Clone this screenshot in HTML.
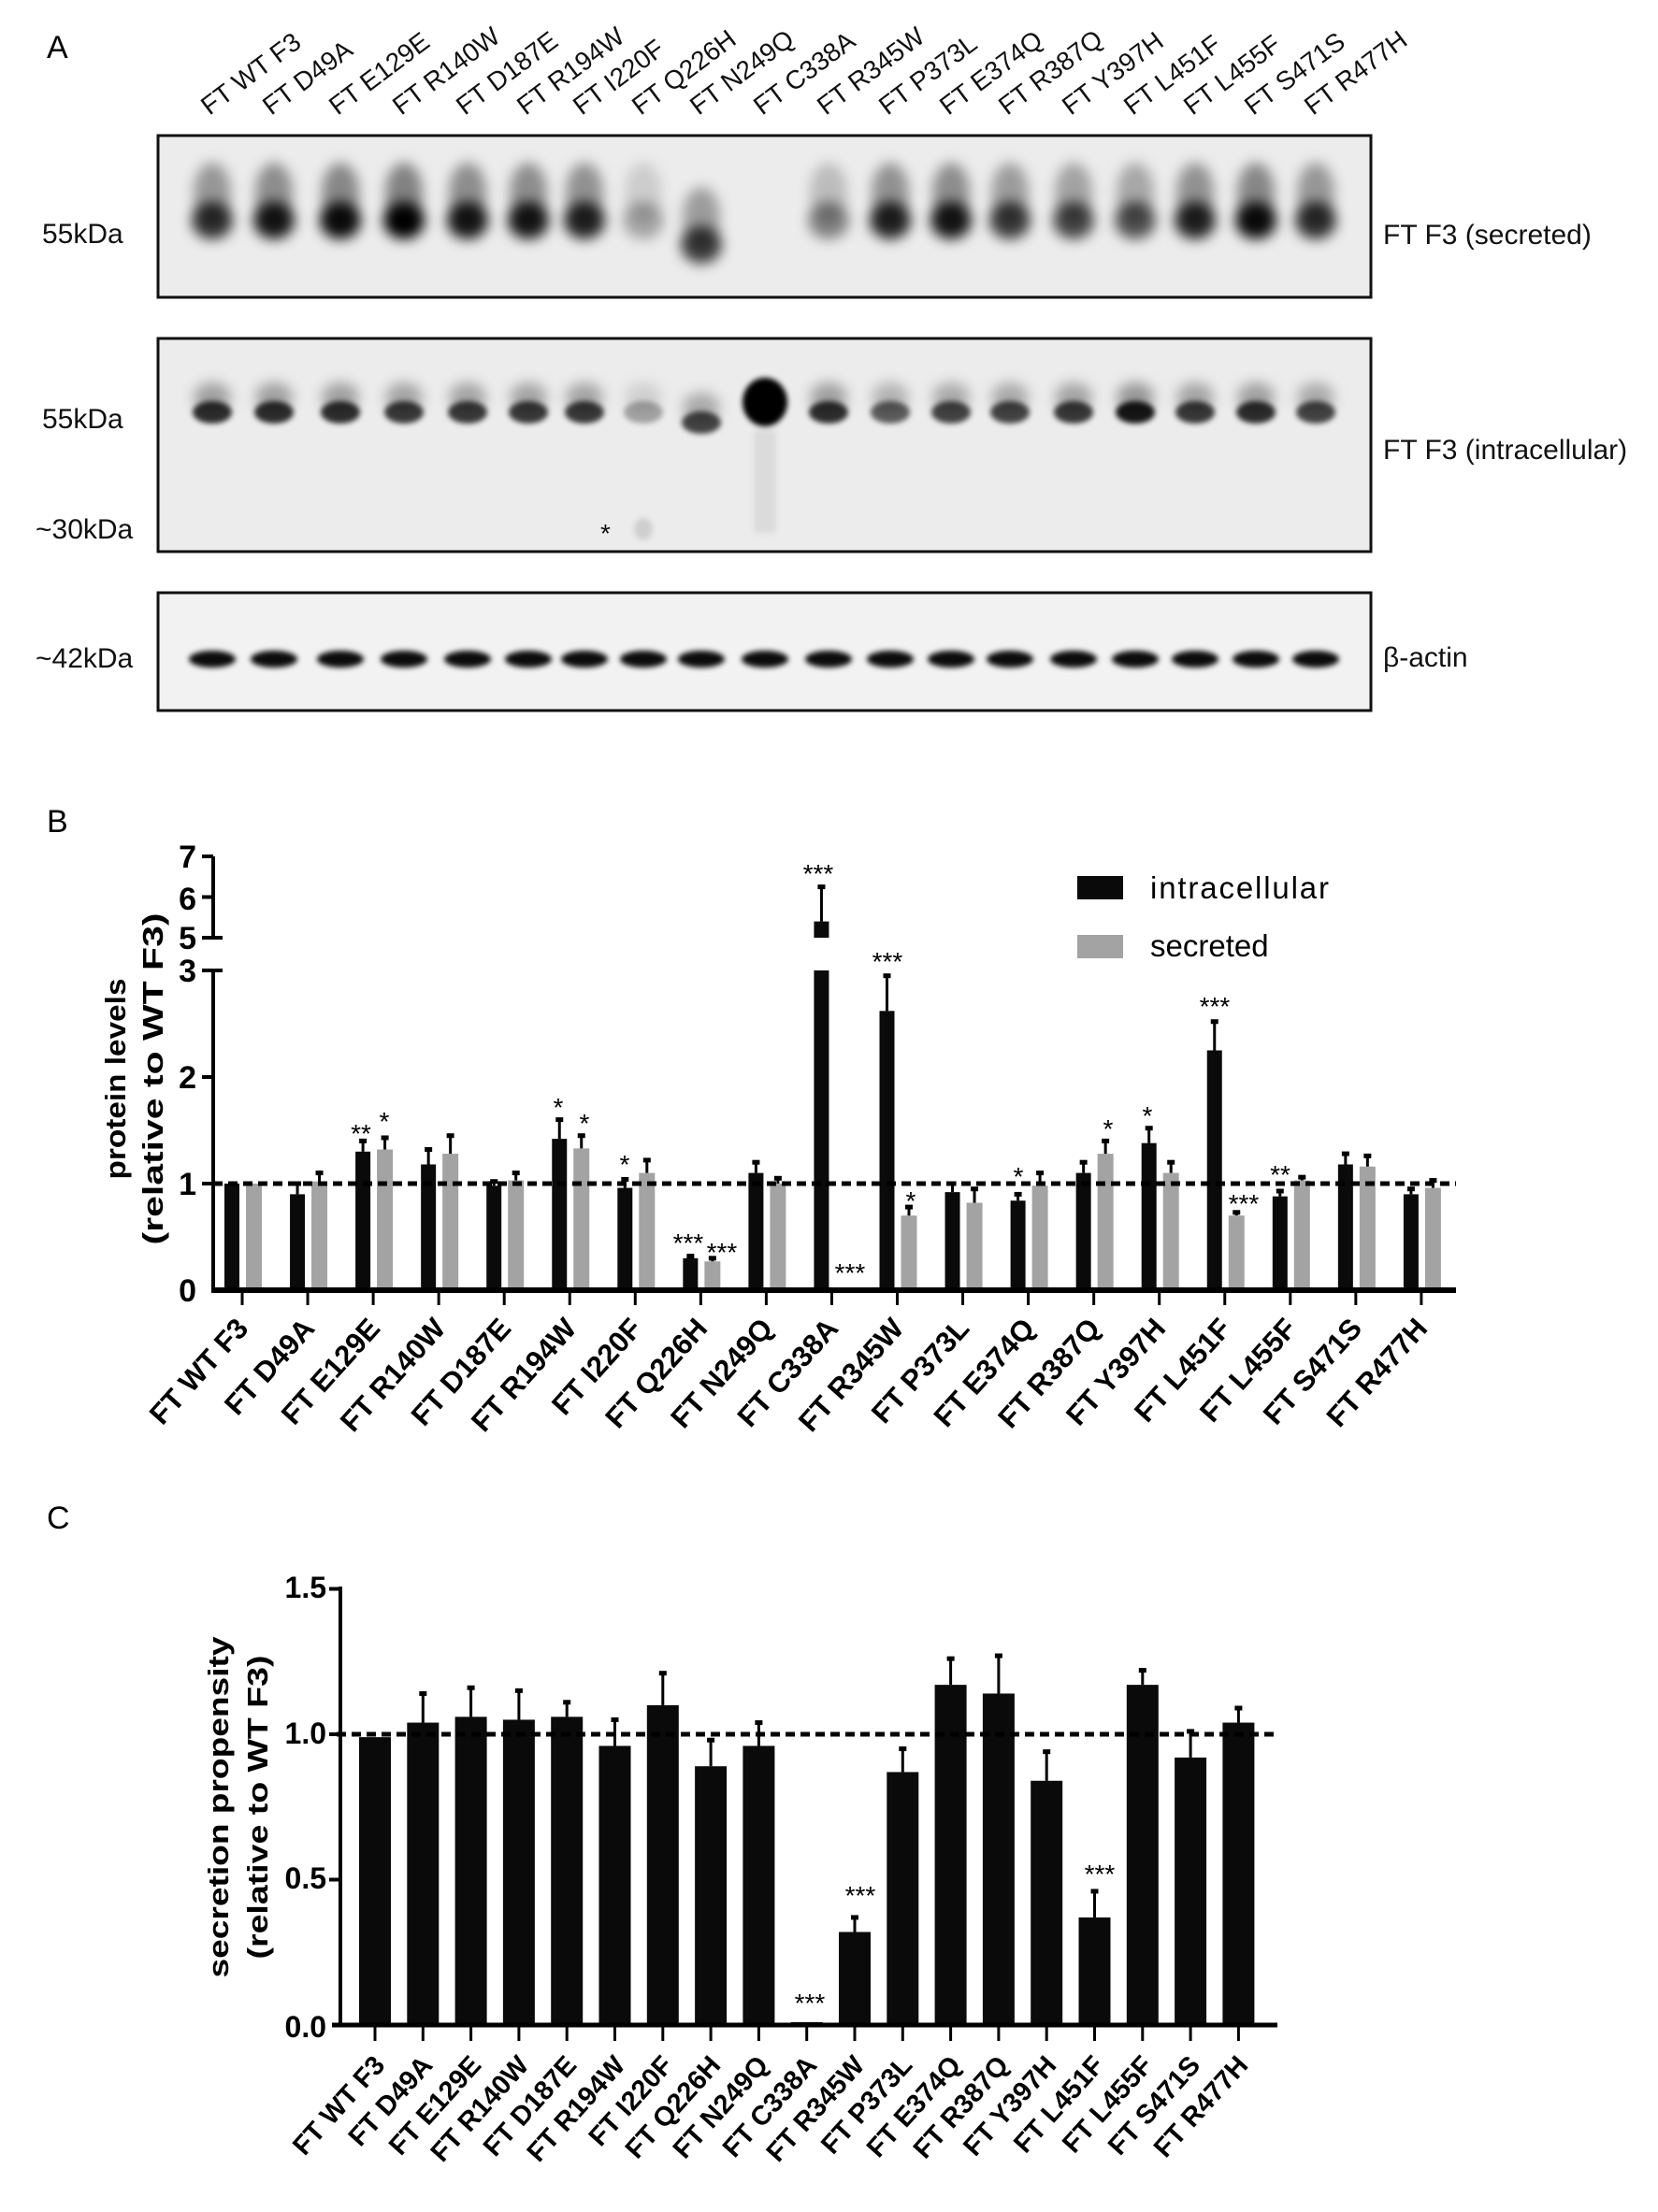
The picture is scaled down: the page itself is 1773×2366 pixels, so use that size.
<!DOCTYPE html>
<html><head><meta charset="utf-8"><style>
html,body{margin:0;padding:0;background:#fff}
svg{display:block}
text{font-family:"Liberation Sans",sans-serif}
</style></head><body>
<svg id="s" width="1773" height="2366" viewBox="0 0 1773 2366" xmlns="http://www.w3.org/2000/svg">
<defs>
<filter id="b1" x="-50%" y="-50%" width="200%" height="200%"><feGaussianBlur stdDeviation="7"/></filter>
<filter id="b2" x="-50%" y="-50%" width="200%" height="200%"><feGaussianBlur stdDeviation="3"/></filter>
</defs>
<rect width="1773" height="2366" fill="#fff"/>
<!-- Panel A -->
<text x="50" y="62" font-size="34">A</text>
<g font-size="28" fill="#111">
<text transform="translate(224,124) rotate(-37)">FT WT F3</text>
<text transform="translate(290,124) rotate(-37)">FT D49A</text>
<text transform="translate(361,124) rotate(-37)">FT E129E</text>
<text transform="translate(429,124) rotate(-37)">FT R140W</text>
<text transform="translate(497,124) rotate(-37)">FT D187E</text>
<text transform="translate(562,124) rotate(-37)">FT R194W</text>
<text transform="translate(622,124) rotate(-37)">FT I220F</text>
<text transform="translate(685,124) rotate(-37)">FT Q226H</text>
<text transform="translate(747,124) rotate(-37)">FT N249Q</text>
<text transform="translate(815,124) rotate(-37)">FT C338A</text>
<text transform="translate(883,124) rotate(-37)">FT R345W</text>
<text transform="translate(949,124) rotate(-37)">FT P373L</text>
<text transform="translate(1014,124) rotate(-37)">FT E374Q</text>
<text transform="translate(1077,124) rotate(-37)">FT R387Q</text>
<text transform="translate(1145,124) rotate(-37)">FT Y397H</text>
<text transform="translate(1211,124) rotate(-37)">FT L451F</text>
<text transform="translate(1275,124) rotate(-37)">FT L455F</text>
<text transform="translate(1340,124) rotate(-37)">FT S471S</text>
<text transform="translate(1404,124) rotate(-37)">FT R477H</text>
</g>
<rect x="169" y="145" width="1297" height="173" fill="#ececec" stroke="#111" stroke-width="3"/>
<rect x="169" y="362" width="1297" height="228" fill="#ececec" stroke="#111" stroke-width="3"/>
<rect x="169" y="634" width="1297" height="126" fill="#f2f2f2" stroke="#111" stroke-width="3"/>
<g id="bands"></g>
<g font-size="30" fill="#111">
<text x="45" y="260">55kDa</text>
<text x="45" y="458">55kDa</text>
<text x="38" y="576">~30kDa</text>
<text x="38" y="714">~42kDa</text>
<text x="1479" y="261">FT F3 (secreted)</text>
<text x="1479" y="491">FT F3 (intracellular)</text>
<text x="1479" y="713">β-actin</text>
<text x="642" y="580" font-size="28">*</text>
</g>
<!-- Panel B -->
<text x="50" y="890" font-size="34">B</text>
<g id="gB"></g>
<g font-size="34" font-weight="bold" text-anchor="end">
<text x="210" y="1392">0</text><text x="210" y="1278">1</text><text x="210" y="1164">2</text><text x="210" y="1050">3</text>
<text x="210" y="1015">5</text><text x="210" y="973">6</text><text x="210" y="928">7</text>
</g>
<g font-size="31" font-weight="bold" text-anchor="middle">
<text transform="translate(134,1154) rotate(-90)" textLength="215" lengthAdjust="spacingAndGlyphs">protein levels</text>
<text transform="translate(174,1154) rotate(-90)" textLength="355" lengthAdjust="spacingAndGlyphs">(relative to WT F3)</text>
</g>
<rect x="1152" y="937" width="49" height="25" fill="#0a0a0a"/>
<rect x="1152" y="1000" width="49" height="25" fill="#a3a3a3"/>
<text x="1230" y="961" font-size="33" textLength="191">intracellular</text>
<text x="1230" y="1023" font-size="33">secreted</text>
<g font-size="28" text-anchor="middle">
<text x="386" y="1222">**</text><text x="411" y="1209">*</text>
<text x="597" y="1194">*</text><text x="625" y="1211">*</text>
<text x="668" y="1255">*</text>
<text x="736" y="1339">***</text><text x="772" y="1349">***</text>
<text x="875" y="944">***</text><text x="909" y="1371">***</text>
<text x="949" y="1038">***</text><text x="974" y="1294">*</text>
<text x="1089" y="1268">*</text>
<text x="1185" y="1217">*</text>
<text x="1227" y="1203">*</text>
<text x="1299" y="1086">***</text><text x="1330" y="1297">***</text>
<text x="1369" y="1266">**</text>
</g>
<g font-size="31" font-weight="bold" text-anchor="end">
<text transform="translate(267,1422) rotate(-48)">FT WT F3</text>
<text transform="translate(338,1422) rotate(-48)">FT D49A</text>
<text transform="translate(408,1422) rotate(-48)">FT E129E</text>
<text transform="translate(478,1422) rotate(-48)">FT R140W</text>
<text transform="translate(548,1422) rotate(-48)">FT D187E</text>
<text transform="translate(618,1422) rotate(-48)">FT R194W</text>
<text transform="translate(688,1422) rotate(-48)">FT I220F</text>
<text transform="translate(758,1422) rotate(-48)">FT Q226H</text>
<text transform="translate(828,1422) rotate(-48)">FT N249Q</text>
<text transform="translate(898,1422) rotate(-48)">FT C338A</text>
<text transform="translate(968,1422) rotate(-48)">FT R345W</text>
<text transform="translate(1038,1422) rotate(-48)">FT P373L</text>
<text transform="translate(1108,1422) rotate(-48)">FT E374Q</text>
<text transform="translate(1178,1422) rotate(-48)">FT R387Q</text>
<text transform="translate(1248,1422) rotate(-48)">FT Y397H</text>
<text transform="translate(1318,1422) rotate(-48)">FT L451F</text>
<text transform="translate(1388,1422) rotate(-48)">FT L455F</text>
<text transform="translate(1458,1422) rotate(-48)">FT S471S</text>
<text transform="translate(1528,1422) rotate(-48)">FT R477H</text>
</g>
<!-- Panel C -->
<text x="50" y="1635" font-size="34">C</text>
<g id="gC"></g>
<g font-size="32" font-weight="bold" text-anchor="end">
<text x="349" y="2179">0.0</text><text x="349" y="2020">0.5</text><text x="349" y="1865">1.0</text><text x="349" y="1709">1.5</text>
</g>
<g font-size="31" font-weight="bold" text-anchor="middle">
<text transform="translate(244,1933) rotate(-90)" textLength="365" lengthAdjust="spacingAndGlyphs">secretion propensity</text>
<text transform="translate(286,1933) rotate(-90)" textLength="325" lengthAdjust="spacingAndGlyphs">(relative to WT F3)</text>
</g>
<g font-size="28" text-anchor="middle">
<text x="866" y="2152">***</text>
<text x="920" y="2037">***</text>
<text x="1176" y="2014">***</text>
</g>
<g font-size="29" font-weight="bold" text-anchor="end">
<text transform="translate(413,2210) rotate(-48)">FT WT F3</text>
<text transform="translate(464,2210) rotate(-48)">FT D49A</text>
<text transform="translate(516,2210) rotate(-48)">FT E129E</text>
<text transform="translate(567,2210) rotate(-48)">FT R140W</text>
<text transform="translate(618,2210) rotate(-48)">FT D187E</text>
<text transform="translate(670,2210) rotate(-48)">FT R194W</text>
<text transform="translate(721,2210) rotate(-48)">FT I220F</text>
<text transform="translate(772,2210) rotate(-48)">FT Q226H</text>
<text transform="translate(823,2210) rotate(-48)">FT N249Q</text>
<text transform="translate(875,2210) rotate(-48)">FT C338A</text>
<text transform="translate(926,2210) rotate(-48)">FT R345W</text>
<text transform="translate(977,2210) rotate(-48)">FT P373L</text>
<text transform="translate(1029,2210) rotate(-48)">FT E374Q</text>
<text transform="translate(1080,2210) rotate(-48)">FT R387Q</text>
<text transform="translate(1131,2210) rotate(-48)">FT Y397H</text>
<text transform="translate(1182,2210) rotate(-48)">FT L451F</text>
<text transform="translate(1234,2210) rotate(-48)">FT L455F</text>
<text transform="translate(1285,2210) rotate(-48)">FT S471S</text>
<text transform="translate(1336,2210) rotate(-48)">FT R477H</text>
</g>
</svg>
<script>
var NS="http://www.w3.org/2000/svg";
function el(p,t,a){var e=document.createElementNS(NS,t);for(var k in a)e.setAttribute(k,a[k]);p.appendChild(e);return e;}
var lanes=[227,293,364,432,500,565,625,688,750,818,886,952,1017,1080,1148,1214,1278,1343,1407];
var sec=[.8,.9,.95,1,.9,.9,.85,.3,.75,0,.45,.85,.9,.75,.7,.65,.85,.95,.8];
var itc=[.8,.8,.8,.75,.75,.75,.75,.3,.7,1,.8,.6,.7,.7,.75,.9,.75,.8,.7];
var bg=document.getElementById("bands");
lanes.forEach(function(x,i){
 var s=sec[i];
 if(s>0){var y=i==8?262:236;
  el(bg,"ellipse",{cx:x,cy:y-30,rx:20,ry:32,fill:"#000","fill-opacity":s*0.45,filter:"url(#b1)"});
  el(bg,"ellipse",{cx:x,cy:y,rx:22,ry:20,fill:"#000","fill-opacity":s,filter:"url(#b1)"});}
 var t=itc[i],y2=i==8?452:441;
 if(i==9){el(bg,"ellipse",{cx:x,cy:430,rx:24,ry:26,fill:"#000",filter:"url(#b2)"});
  el(bg,"rect",{x:x-12,y:460,width:24,height:110,fill:"#000","fill-opacity":.07,filter:"url(#b2)"});}
 else{el(bg,"ellipse",{cx:x,cy:y2-16,rx:20,ry:16,fill:"#000","fill-opacity":t*0.4,filter:"url(#b1)"});
  el(bg,"ellipse",{cx:x,cy:y2,rx:21,ry:12,fill:"#000","fill-opacity":t,filter:"url(#b2)"});}
 el(bg,"ellipse",{cx:x,cy:705,rx:25,ry:9,fill:"#000","fill-opacity":.95,filter:"url(#b2)"});
});
el(bg,"ellipse",{cx:688,cy:566,rx:10,ry:12,fill:"#000","fill-opacity":.12,filter:"url(#b2)"});
var g=document.getElementById("gB");
function yB(v){return v<=3?1380-v*114:1003-(v-5)*43.5;}
var I=[[1,0],[.9,1],[1.3,1.4],[1.18,1.32],[.98,1.02],[1.42,1.6],[.96,1.04],[.3,.32],[1.1,1.2],[5.4,6.25],[2.62,2.95],[.92,1],[.84,.9],[1.1,1.2],[1.38,1.52],[2.25,2.52],[.88,.93],[1.18,1.28],[.9,.95]];
var S=[[1,0],[1.02,1.1],[1.32,1.43],[1.28,1.45],[1.03,1.1],[1.33,1.45],[1.1,1.22],[.27,.3],[1,1.05],[.01,0],[.7,.78],[.82,.95],[.98,1.1],[1.28,1.4],[1.1,1.2],[.7,.73],[1.03,1.06],[1.16,1.26],[.96,1.03]];
function bar(g,x,w,v,e,col,yf,base){
 el(g,"rect",{x:x,y:yf(v),width:w,height:base-yf(v),fill:col});
 if(e>v){var cx=x+w/2;el(g,"line",{x1:cx,y1:yf(v),x2:cx,y2:yf(e),stroke:"#000","stroke-width":3});
  el(g,"line",{x1:cx-4,y1:yf(e),x2:cx+4,y2:yf(e),stroke:"#000","stroke-width":5});}
}
for(var i=0;i<19;i++){
 var c=259+i*70.05;
 if(i==9){
  el(g,"rect",{x:c-19,y:yB(3),width:16,height:1380-yB(3),fill:"#0a0a0a"});
  el(g,"rect",{x:c-19,y:yB(5.4),width:16,height:yB(5)-yB(5.4),fill:"#0a0a0a"});
  el(g,"line",{x1:c-11,y1:yB(5.4),x2:c-11,y2:yB(6.25),stroke:"#000","stroke-width":3});
  el(g,"line",{x1:c-15,y1:yB(6.25),x2:c-7,y2:yB(6.25),stroke:"#000","stroke-width":5});
  el(g,"rect",{x:c+4,y:1377,width:16,height:3,fill:"#000"});
 } else {
  bar(g,c-19,16,I[i][0],I[i][1],"#0a0a0a",yB,1380);
  bar(g,c+4,17,S[i][0],S[i][1],"#a3a3a3",yB,1380);
 }
 el(g,"line",{x1:c,y1:1380,x2:c,y2:1396,stroke:"#000","stroke-width":3});
}
el(g,"line",{x1:228,y1:yB(1),x2:1557,y2:yB(1),stroke:"#000","stroke-width":5,"stroke-dasharray":"10,6"});
el(g,"line",{x1:226,y1:1380,x2:1557,y2:1380,stroke:"#000","stroke-width":6});
el(g,"line",{x1:228,y1:1382,x2:228,y2:1038,stroke:"#000","stroke-width":4});
el(g,"line",{x1:228,y1:1003,x2:228,y2:916,stroke:"#000","stroke-width":4});
[[1,216,228],[2,216,228],[3,216,238],[5,216,238],[6,216,228],[7,216,228]].forEach(function(t){
 el(g,"line",{x1:t[1],y1:yB(t[0]),x2:t[2],y2:yB(t[0]),stroke:"#000","stroke-width":4});});
var gc=document.getElementById("gC");
function yC(v){return 2166-v*311;}
var C=[[.99,0],[1.04,1.14],[1.06,1.16],[1.05,1.15],[1.06,1.11],[.96,1.05],[1.1,1.21],[.89,.98],[.96,1.04],[.01,0],[.32,.37],[.87,.95],[1.17,1.26],[1.14,1.27],[.84,.94],[.37,.46],[1.17,1.22],[.92,1.01],[1.04,1.09]];
for(var i=0;i<19;i++){
 var c=401+i*51.3;
 bar(gc,c-17,34,C[i][0],C[i][1],"#0a0a0a",yC,2166);
 el(gc,"line",{x1:c,y1:2166,x2:c,y2:2183,stroke:"#000","stroke-width":3});
}
el(gc,"line",{x1:360,y1:yC(1),x2:1366,y2:yC(1),stroke:"#000","stroke-width":5,"stroke-dasharray":"10,6"});
el(gc,"line",{x1:355,y1:2166,x2:1366,y2:2166,stroke:"#000","stroke-width":5});
el(gc,"line",{x1:364,y1:2168,x2:364,y2:1697,stroke:"#000","stroke-width":4});
[.5,1,1.5].forEach(function(v){el(gc,"line",{x1:352,y1:yC(v),x2:364,y2:yC(v),stroke:"#000","stroke-width":4});});
</script>
</body></html>
